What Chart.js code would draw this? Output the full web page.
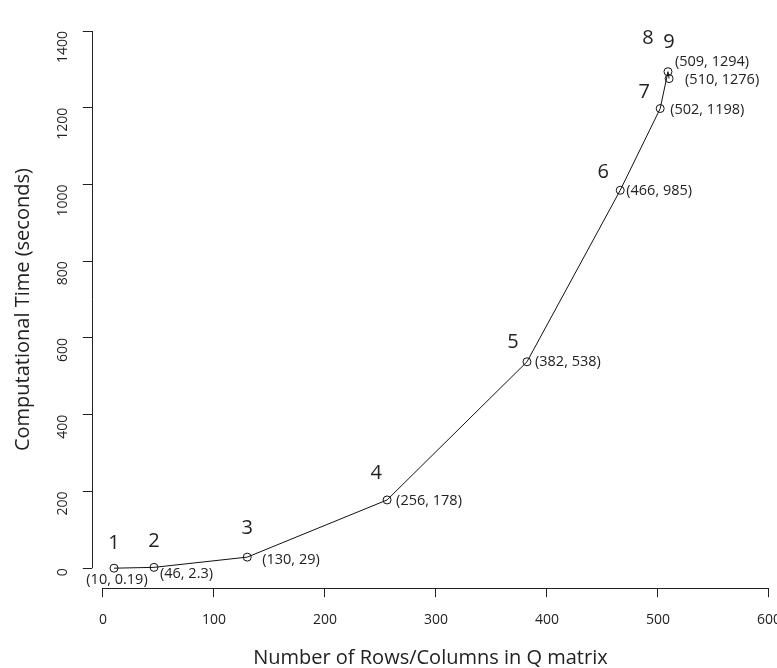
<!DOCTYPE html>
<html>
<head>
<meta charset="utf-8">
<script src="https://cdn.jsdelivr.net/npm/chart.js@4.4.0/dist/chart.umd.min.js"></script>
<style>
  html, body { margin: 0; padding: 0; background: #fff; overflow: hidden; }
  #wrap { width: 777px; height: 668px; overflow: hidden; }
</style>
</head>
<body>
<div id="wrap"><canvas id="myChart" width="795" height="668"></canvas></div>
<script>
// data
const sizes = [10, 46, 130, 256, 382, 466, 502, 509, 510];
const times = [0.19, 2.3, 29, 178, 538, 985, 1198, 1294, 1276];
const pointNames = ['1', '2', '3', '4', '5', '6', '7', '8', '9'];
const pointTexts = ['(10, 0.19)', '(46, 2.3)', '(130, 29)', '(256, 178)', '(382, 538)',
    '(466, 985)', '(502, 1198)', '(509, 1294)', '(510, 1276)'];
const xTicks = [0, 100, 200, 300, 400, 500, 600];
const yTicks = [0, 200, 400, 600, 800, 1000, 1200, 1400];

const FONT = "'Open Sans', 'Noto Sans', sans-serif";

// pixel offsets of the number and the text from each point
const nameOffsets = [[0, -25], [0, -26], [0, -29], [-11, -27], [-14, -19], [-17, -18], [-16, -16], [-20, -33], [0, -36]];
const textOffsets = [[3, 12, 'center'], [6, 7, 'left'], [15, 3, 'left'], [9, 1, 'left'], [8, 0, 'left'],
    [6, 1, 'left'], [10, 1, 'left'], [7, -10, 'left'], [16, 1, 'left']];

// R style axis lines, only from first to last tick
const axisLines = {
    id: 'axisLines',
    afterDraw(chart) {
        const ctx = chart.ctx;
        const x = chart.scales.x;
        const y = chart.scales.y;
        ctx.save();
        ctx.strokeStyle = '#222';
        ctx.lineWidth = 1;
        ctx.beginPath();
        ctx.moveTo(x.getPixelForValue(xTicks[0]), Math.round(y.bottom) + 0.5);
        ctx.lineTo(x.getPixelForValue(xTicks[xTicks.length - 1]), Math.round(y.bottom) + 0.5);
        ctx.moveTo(Math.round(x.left) + 0.5, y.getPixelForValue(yTicks[0]));
        ctx.lineTo(Math.round(x.left) + 0.5, y.getPixelForValue(yTicks[yTicks.length - 1]));
        ctx.stroke();
        ctx.restore();
    }
};

const pointLabels = {
    id: 'pointLabels',
    afterDatasetsDraw(chart) {
        const ctx = chart.ctx;
        const meta = chart.getDatasetMeta(0);
        ctx.save();
        ctx.fillStyle = '#222';
        ctx.textBaseline = 'middle';
        meta.data.forEach((pt, i) => {
            ctx.font = '20px ' + FONT;
            ctx.textAlign = 'center';
            ctx.fillText(pointNames[i], pt.x + nameOffsets[i][0], pt.y + nameOffsets[i][1]);
            ctx.font = '14.5px ' + FONT;
            ctx.textAlign = textOffsets[i][2];
            ctx.fillText(pointTexts[i], pt.x + textOffsets[i][0], pt.y + textOffsets[i][1]);
        });
        ctx.restore();
    }
};

const ctx = document.getElementById('myChart').getContext('2d');
const myChart = new Chart(ctx, {
    type: 'scatter',
    data: {
        datasets: [{
            data: sizes.map((s, i) => ({ x: s, y: times[i] })),
            showLine: true,
            borderColor: '#111',
            borderWidth: 1,
            pointRadius: 4,
            pointBorderWidth: 1,
            pointBorderColor: '#111',
            pointBackgroundColor: 'rgba(0,0,0,0)',
            tension: 0,
        }]
    },
    plugins: [axisLines, pointLabels],
    options: {
        responsive: false,
        animation: false,
        layout: { padding: { left: 11, right: 20, top: 31, bottom: -2 } },
        plugins: {
            legend: { display: false },
            tooltip: { enabled: false },
        },
        scales: {
            x: {
                type: 'linear',
                min: -10,
                max: 600,
                afterBuildTicks: (axis) => { axis.ticks = xTicks.map(v => ({ value: v })); },
                border: { display: false },
                grid: { drawOnChartArea: false, drawTicks: true, tickLength: 9, color: '#222' },
                ticks: { color: '#222', font: { family: FONT, size: 14 }, padding: 14, maxRotation: 0,
                    callback: (v) => String(v) },
                title: {
                    display: true,
                    text: 'Number of Rows/Columns in Q matrix',
                    color: '#222',
                    font: { family: FONT, size: 20 },
                    padding: { top: 4, bottom: 0 }
                }
            },
            y: {
                type: 'linear',
                min: -52,
                max: 1400,
                afterBuildTicks: (axis) => { axis.ticks = yTicks.map(v => ({ value: v })); },
                border: { display: false },
                grid: { drawOnChartArea: false, drawTicks: true, tickLength: 9, color: '#222' },
                ticks: { color: '#222', font: { family: FONT, size: 14 }, padding: 20, minRotation: 90, maxRotation: 90,
                    callback: (v) => String(v) },
                title: {
                    display: true,
                    text: 'Computational Time (seconds)',
                    color: '#222',
                    font: { family: FONT, size: 20 },
                    padding: { top: 0, bottom: -9 }
                }
            }
        }
    }
});
</script>
</body>
</html>
